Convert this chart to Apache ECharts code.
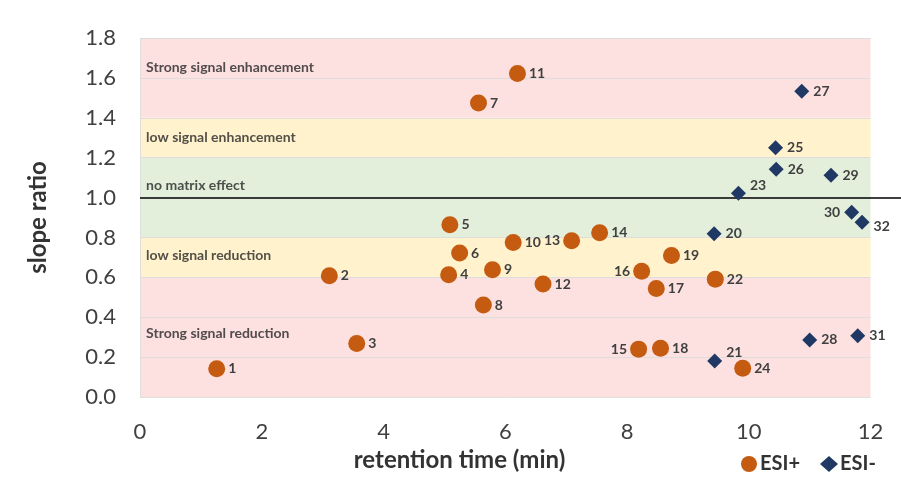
<!DOCTYPE html>
<html>
<head>
<meta charset="utf-8">
<script src="https://cdn.jsdelivr.net/npm/echarts@6/dist/echarts.min.js"></script>
<style>html,body{margin:0;padding:0;background:#fff}#c{width:901px;height:477px}</style>
</head>
<body>
<div id="c"></div>
<script>
// ESI+ points: [retention time, slope ratio, compound no.]
var esiPos = [
  [1.26, 0.142, 1], [3.11, 0.608, 2], [3.56, 0.268, 3], [5.07, 0.613, 4],
  [5.09, 0.864, 5], [5.25, 0.722, 6], [5.56, 1.474, 7], [5.64, 0.461, 8],
  [5.79, 0.638, 9], [6.13, 0.775, 10], [6.20, 1.622, 11], [6.62, 0.566, 12],
  [7.09, 0.784, 13], [7.55, 0.824, 14], [8.19, 0.240, 15], [8.24, 0.630, 16],
  [8.48, 0.544, 17], [8.55, 0.245, 18], [8.73, 0.709, 19], [9.45, 0.591, 22],
  [9.90, 0.144, 24]
];
// ESI- points
var esiNeg = [
  [9.43, 0.818, 20], [9.44, 0.181, 21], [9.83, 1.022, 23], [10.44, 1.250, 25],
  [10.45, 1.142, 26], [10.87, 1.533, 27], [11.00, 0.286, 28], [11.35, 1.112, 29],
  [11.69, 0.926, 30], [11.79, 0.307, 31], [11.86, 0.876, 32]
];
// zone bands: [from, to, kind]
var zones = [
  [1.4, 1.8, 'strong'], [1.2, 1.4, 'low'], [0.8, 1.2, 'none'],
  [0.6, 0.8, 'low'], [0.0, 0.6, 'strong']
];
// zone captions: [x, y, text]
var zoneLabels = [
  [0.1, 1.65, 'Strong signal enhancement'],
  [0.1, 1.30, 'low signal enhancement'],
  [0.1, 1.06, 'no matrix effect'],
  [0.1, 0.71, 'low signal reduction'],
  [0.1, 0.32, 'Strong signal reduction']
];
var yTicks = [0, 0.2, 0.4, 0.6, 0.8, 1.0, 1.2, 1.4, 1.6, 1.8];
var leftLabelIds = [13, 15, 16, 30];
var topRightIds = [21, 23];

var zoneColors = { strong: '#fde0e0', low: '#fff2cc', none: '#e3efda' };
var FONT = 'Lato, "Open Sans", sans-serif';

function pointData(arr) {
  return arr.map(function (p) {
    var pos = 'right';
    var off = [0, 0];
    if (leftLabelIds.indexOf(p[2]) >= 0) pos = 'left';
    if (topRightIds.indexOf(p[2]) >= 0) off = [0, -8];
    if (p[2] === 32) off = [0, 4];
    return { value: p, label: { position: pos, offset: off } };
  });
}

var bandAreas = zones.map(function (z) {
  return [
    { xAxis: 0, yAxis: z[0], itemStyle: { color: zoneColors[z[2]] } },
    { xAxis: 12, yAxis: z[1] }
  ];
});
var gridLines = yTicks.map(function (v) {
  return [{ coord: [0, v] }, { coord: [12, v] }];
});
gridLines.push([{ coord: [0, 0] }, { coord: [0, 1.8] }]);

var chart = echarts.init(document.getElementById('c'), null, { renderer: 'canvas' });
chart.setOption({
  animation: false,
  textStyle: { fontFamily: FONT },
  grid: { left: 140, top: 38, width: 761, height: 359, containLabel: false },
  xAxis: {
    type: 'value', min: 0, max: 12.5, interval: 2,
    name: 'retention time (min)', nameLocation: 'middle', nameGap: 50,
    nameTextStyle: { fontSize: 24, fontWeight: 'bold', color: '#333', fontFamily: FONT, padding: [0, 122, 0, 0] },
    axisLine: { show: false }, axisTick: { show: false }, splitLine: { show: false },
    axisLabel: { fontSize: 22, color: '#404040', margin: 24, showMaxLabel: false, fontFamily: FONT }
  },
  yAxis: {
    type: 'value', min: 0, max: 1.8, interval: 0.2,
    name: 'slope ratio', nameLocation: 'middle', nameGap: 90, nameRotate: 90,
    nameTextStyle: { fontSize: 24, fontWeight: 'bold', color: '#333', fontFamily: FONT },
    axisLine: { show: false }, axisTick: { show: false }, splitLine: { show: false },
    axisLabel: { fontSize: 22, color: '#404040', margin: 24, fontFamily: FONT,
      formatter: function (v) { return v.toFixed(1); } }
  },
  legend: {
    data: ['ESI+', 'ESI-'],
    left: 736, top: 449, itemGap: 20, itemWidth: 18, itemHeight: 16,
    textStyle: { fontSize: 20, fontWeight: 'bold', color: '#333', fontFamily: FONT, padding: [0, 0, 0, -3] }
  },
  series: [
    {
      name: 'zones', type: 'scatter', symbolSize: 0, silent: true,
      data: zoneLabels,
      label: {
        show: true, position: 'right', distance: 0,
        formatter: function (p) { return p.value[2]; },
        fontSize: 14, fontWeight: 'bold', color: '#262626', fontFamily: FONT
      },
      markArea: { silent: true, z: 1, data: bandAreas, itemStyle: { borderWidth: 0 } },
      markLine: {
        silent: true, z: 2, symbol: 'none', label: { show: false },
        lineStyle: { color: '#dcdcdc', width: 1, type: 'solid', opacity: 0.9 },
        data: gridLines.concat([[
          { coord: [0, 1.0], lineStyle: { color: '#000', width: 1.5, opacity: 1 } },
          { coord: [12.5, 1.0] }
        ]])
      },
      z: 2
    },
    {
      name: 'ESI+', type: 'scatter', symbol: 'circle', symbolSize: 17,
      itemStyle: { color: '#c55a11', opacity: 1 },
      data: pointData(esiPos),
      label: {
        show: true, distance: 3, fontSize: 14, fontWeight: 'bold', color: '#404040', fontFamily: FONT,
        formatter: function (p) { return p.value[2]; }
      },
      z: 4
    },
    {
      name: 'ESI-', type: 'scatter', symbol: 'diamond', symbolSize: 15,
      itemStyle: { color: '#1f3864', opacity: 1 },
      data: pointData(esiNeg),
      label: {
        show: true, distance: 4, fontSize: 14, fontWeight: 'bold', color: '#404040', fontFamily: FONT,
        formatter: function (p) { return p.value[2]; }
      },
      z: 4
    }
  ]
});
</script>
</body>
</html>
